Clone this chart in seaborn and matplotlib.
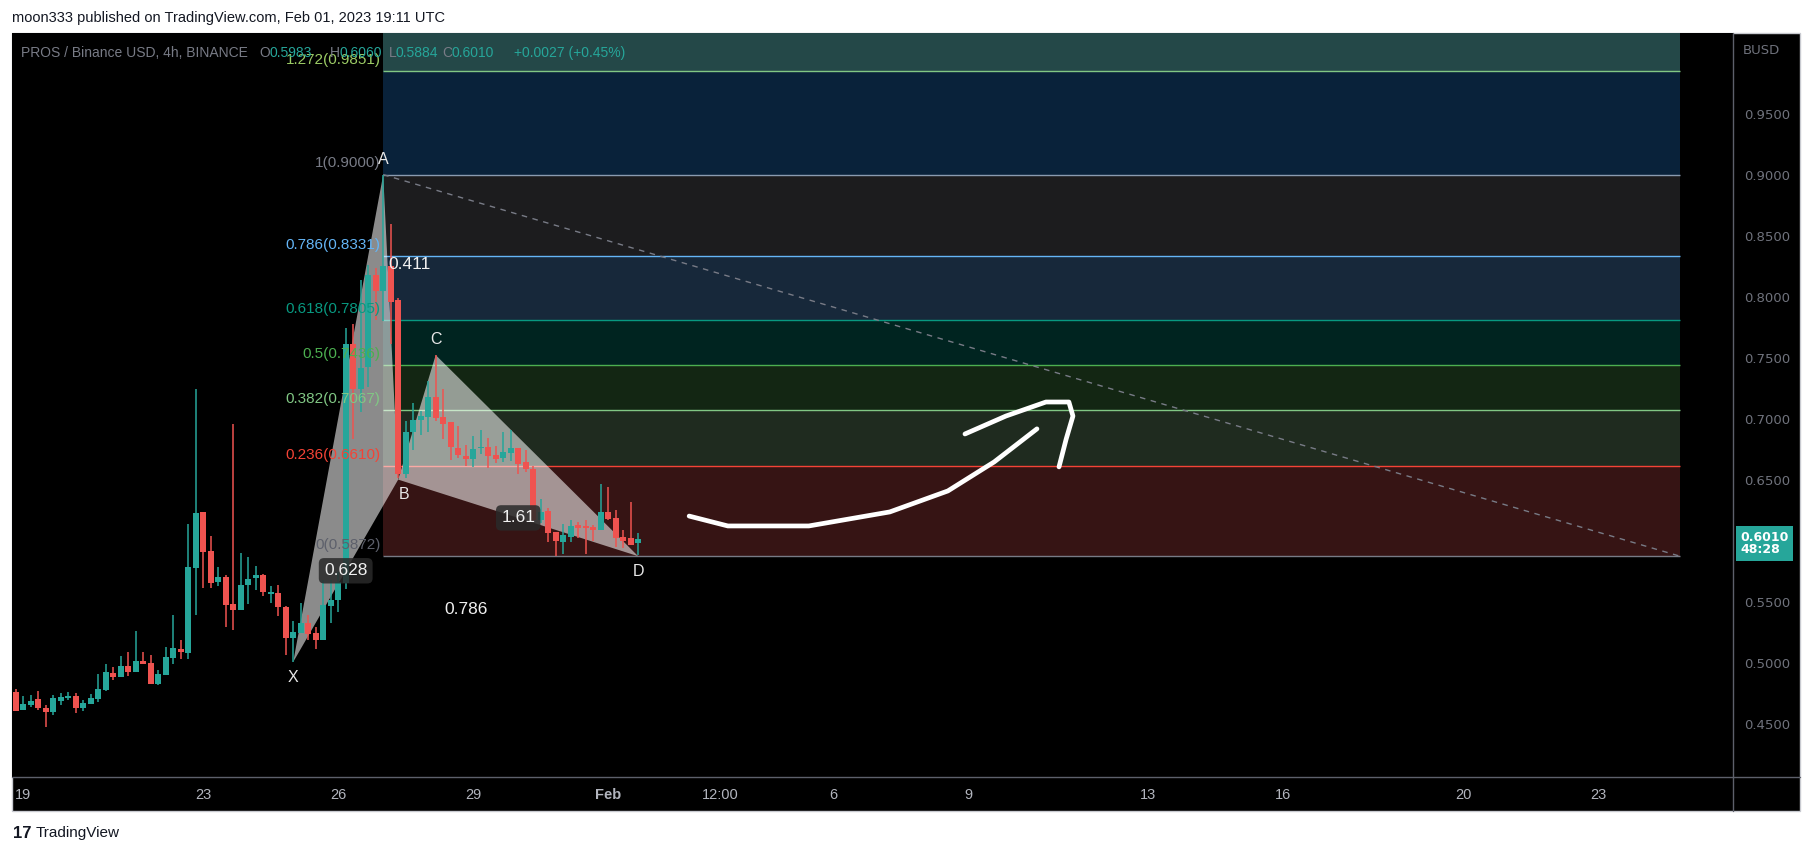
import numpy as np
import seaborn as sns
import matplotlib.pyplot as plt
import pandas as pd
from matplotlib.patches import Rectangle, Polygon

# ---- data ----
# 4h candles, first one Jan 18 20:00, x in days from Jan 19 00:00
opens = [0.4759, 0.4614, 0.4655, 0.4702, 0.4628, 0.4598, 0.4685, 0.4713, 0.4726, 0.4631,
         0.4663, 0.4702, 0.4778, 0.4915, 0.4885, 0.4972, 0.4923, 0.5013, 0.4997, 0.4825,
         0.4898, 0.5040, 0.5114, 0.5081, 0.5778, 0.6234, 0.5915, 0.5661, 0.5702, 0.5480,
         0.5431, 0.5636, 0.5693, 0.5718, 0.5565, 0.5571, 0.5456, 0.5202, 0.5243, 0.5325,
         0.5243, 0.5185, 0.5464, 0.5513, 0.5655, 0.7609, 0.7243, 0.7420, 0.8177, 0.8043,
         0.8251, 0.7969, 0.6543, 0.6888, 0.6989, 0.7013, 0.7177, 0.7013, 0.6972, 0.6762,
         0.6696, 0.6672, 0.6762, 0.6770, 0.6704, 0.6680, 0.6715, 0.6762, 0.6644, 0.6590,
         0.6172, 0.6243, 0.6073, 0.5989, 0.6032, 0.6125, 0.6120, 0.6114, 0.6090, 0.6234,
         0.6188, 0.6029, 0.6021, 0.5983]
highs = [0.4784, 0.4726, 0.4734, 0.4767, 0.4653, 0.4732, 0.4751, 0.4759, 0.4751, 0.4693,
         0.4743, 0.4907, 0.4989, 0.4964, 0.5054, 0.5087, 0.5259, 0.5087, 0.5062, 0.4940,
         0.5128, 0.5390, 0.5185, 0.6136, 0.7243, 0.6234, 0.6038, 0.5784, 0.5718, 0.6956,
         0.5898, 0.5866, 0.5792, 0.5726, 0.5628, 0.5636, 0.5464, 0.5341, 0.5489, 0.5390,
         0.5292, 0.5677, 0.5677, 0.5743, 0.7740, 0.7773, 0.8136, 0.8259, 0.8232, 0.9000,
         0.8595, 0.7986, 0.6978, 0.7128, 0.7062, 0.7308, 0.7521, 0.7243, 0.6972, 0.6939,
         0.6786, 0.6857, 0.6909, 0.6844, 0.6778, 0.6893, 0.6909, 0.6762, 0.6743, 0.6614,
         0.6341, 0.6270, 0.6073, 0.6136, 0.6169, 0.6152, 0.6169, 0.6128, 0.6464, 0.6439,
         0.6251, 0.6087, 0.6316, 0.6060]
lows = [0.4606, 0.4614, 0.4639, 0.4611, 0.4475, 0.4573, 0.4655, 0.4693, 0.4590, 0.4606,
        0.4663, 0.4680, 0.4770, 0.4860, 0.4885, 0.4893, 0.4923, 0.4989, 0.4825, 0.4816,
        0.4898, 0.4986, 0.5027, 0.5027, 0.5390, 0.5612, 0.5612, 0.5628, 0.5292, 0.5267,
        0.5431, 0.5480, 0.5595, 0.5546, 0.5489, 0.5382, 0.5062, 0.5005, 0.5243, 0.5185,
        0.5112, 0.5185, 0.5325, 0.5415, 0.5601, 0.6833, 0.7051, 0.7256, 0.7808, 0.7800,
        0.7609, 0.6510, 0.6510, 0.6745, 0.6868, 0.6893, 0.6983, 0.6833, 0.6661, 0.6680,
        0.6614, 0.6606, 0.6713, 0.6598, 0.6639, 0.6647, 0.6655, 0.6549, 0.6565, 0.6155,
        0.6144, 0.5989, 0.5876, 0.5893, 0.5991, 0.6019, 0.5893, 0.5999, 0.6090, 0.6169,
        0.5948, 0.5943, 0.5964, 0.5884]
closes = [0.4606, 0.4661, 0.4685, 0.4631, 0.4595, 0.4710, 0.4718, 0.4726, 0.4631, 0.4669,
          0.4710, 0.4784, 0.4923, 0.4882, 0.4972, 0.4923, 0.5013, 0.4989, 0.4825, 0.4907,
          0.5046, 0.5122, 0.5090, 0.5784, 0.6226, 0.5907, 0.5652, 0.5702, 0.5472, 0.5431,
          0.5636, 0.5685, 0.5718, 0.5579, 0.5579, 0.5456, 0.5202, 0.5251, 0.5325, 0.5234,
          0.5185, 0.5472, 0.5513, 0.5661, 0.7609, 0.7243, 0.7412, 0.8177, 0.8043, 0.8251,
          0.7953, 0.6543, 0.6888, 0.6989, 0.7021, 0.7177, 0.7005, 0.6956, 0.6770, 0.6704,
          0.6672, 0.6751, 0.6770, 0.6696, 0.6672, 0.6726, 0.6762, 0.6631, 0.6590, 0.6172,
          0.6234, 0.6065, 0.5999, 0.6046, 0.6120, 0.6106, 0.6106, 0.6090, 0.6234, 0.6177,
          0.6021, 0.5999, 0.5964, 0.6010]

# fib retracement
fib_levels = [0, 0.236, 0.382, 0.5, 0.618, 0.786, 1, 1.272]
fib_prices = [0.5872, 0.6610, 0.7067, 0.7436, 0.7805, 0.8331, 0.9000, 0.9851]
fib_top = 1.0933  # 1.618 level, off the top
fib_start, fib_end = 8.0, 36.82

# XABCD pattern
pat_names = ['X', 'A', 'B', 'C', 'D']
pat_x = [6.0, 8.0, 8.333, 9.167, 13.667]
pat_y = [0.5005, 0.9000, 0.6500, 0.7521, 0.5872]
ratio_labels = ['0.628', '0.411', '1.61', '0.786']

# freehand arrow
arrow_x = [14.80, 15.66, 17.46, 19.26, 20.55, 21.58, 22.53]
arrow_y = [0.6201, 0.6120, 0.6120, 0.6235, 0.6407, 0.6645, 0.6916]
head_x = [20.93, 21.84, 22.73, 23.24, 23.33, 23.18, 23.02]
head_y = [0.6874, 0.7021, 0.7136, 0.7136, 0.7021, 0.6833, 0.6604]

time_ticks = [0, 4, 7, 10, 13, 15.5, 18, 21, 25, 28, 32, 35]
time_labels = ['19', '23', '26', '29', 'Feb', '12:00', '6', '9', '13', '16', '20', '23']
price_ticks = [0.45, 0.50, 0.55, 0.65, 0.70, 0.75, 0.80, 0.85, 0.90, 0.95]

# ---- style ----
sns.set_theme(style='dark')
plt.rcParams['font.family'] = ['Liberation Sans', 'DejaVu Sans']

W, H = 1813, 856
UP, DOWN = '#26a69a', '#ef5350'
band_cols = ['#361414', '#1f2b1f', '#132613', '#002420', '#17283a', '#1c1c1e', '#09223a', '#244848']
line_cols = ['#787b86', '#f44336', '#81c784', '#4caf50', '#089981', '#64b5f6', '#8a9bb0', '#81c784']
lab_cols = ['#5d606b', '#f44336', '#81c784', '#4caf50', '#089981', '#64b5f6', '#787b86', '#9ccc65']

fig = plt.figure(figsize=(W / 100, H / 100), dpi=100, facecolor='white')
fig.add_artist(Rectangle((12 / W, 1 - 811 / H), (1800 - 12) / W, (811 - 33) / H,
                         transform=fig.transFigure, facecolor='black',
                         edgecolor='#c8cad0', lw=1, zorder=0))

ax = fig.add_axes([12 / W, 1 - 777 / H, (1733 - 12) / W, (777 - 33) / H])
ax.set_facecolor('black')
ax.set_xlim(-0.25, 38.0)
ax.set_ylim(0.4062, 1.0161)
for s in ax.spines.values():
    s.set_visible(False)
ax.grid(False)

# fib bands + lines
bounds = fib_prices + [fib_top]
for i in range(len(fib_prices)):
    ax.fill_between([fib_start, fib_end], bounds[i], bounds[i + 1],
                    color=band_cols[i], lw=0, zorder=1)
    ax.hlines(fib_prices[i], fib_start, fib_end, color=line_cols[i], lw=1, zorder=2)
    ax.annotate('%g(%.4f)' % (fib_levels[i], fib_prices[i]), (fib_start, fib_prices[i]),
                xytext=(-2, 3), textcoords='offset points', ha='right', va='bottom',
                color=lab_cols[i], fontsize=11, zorder=6)

trend = pd.DataFrame({'x': [fib_start, fib_end], 'y': [fib_prices[-2], fib_prices[0]]})
sns.lineplot(data=trend, x='x', y='y', ax=ax, color='#787b86', lw=1,
             linestyle=(0, (4, 4)), zorder=3)

# pattern triangles
ax.add_patch(Polygon(list(zip(pat_x[:3], pat_y[:3])), closed=True,
                     facecolor='#ffffff', alpha=0.55, lw=0, zorder=3))
ax.add_patch(Polygon(list(zip(pat_x[2:], pat_y[2:])), closed=True,
                     facecolor='#ffffff', alpha=0.55, lw=0, zorder=3))

# candles
n = len(opens)
xs = -1 / 6 + np.arange(n) / 6
o, h, l, c = map(np.array, (opens, highs, lows, closes))
cols = np.where(c >= o, UP, DOWN)
ax.vlines(xs, l, h, colors=cols, lw=1.1, zorder=4)
body = np.maximum(np.abs(c - o), 0.0008)
ax.bar(xs, body, bottom=np.minimum(o, c), width=0.135, color=cols, lw=0, zorder=5)

# pattern point labels
offs = [(0, -11), (0, 11), (4, -11), (0, 11), (0, -11)]
for name, px, py, (dx, dy) in zip(pat_names, pat_x, pat_y, offs):
    ax.annotate(name, (px, py), xytext=(dx, dy), textcoords='offset points',
                ha='center', va='center', color='#e8e8e8', fontsize=11.5, zorder=7)

# ratio labels on mid points of XB, AC, BD, XD
pairs = [(0, 2), (1, 3), (2, 4), (0, 4)]
boxes = [True, False, True, False]
for (a, b), txt, bx in zip(pairs, ratio_labels, boxes):
    mx, my = (pat_x[a] + pat_x[b]) / 2, (pat_y[a] + pat_y[b]) / 2
    kw = dict(boxstyle='round,pad=0.3', fc='#2a2a2a', ec='none', alpha=0.85) if bx else None
    ax.text(mx, my, txt, ha='center', va='center', color='#f0f0f0', fontsize=12.5,
            bbox=kw, zorder=7)

# freehand arrow
arr = pd.DataFrame({'x': arrow_x, 'y': arrow_y})
head = pd.DataFrame({'x': head_x, 'y': head_y})
sns.lineplot(data=arr, x='x', y='y', ax=ax, sort=False, estimator=None, color='white',
             lw=3.4, solid_capstyle='round', solid_joinstyle='round', zorder=8)
sns.lineplot(data=head, x='x', y='y', ax=ax, sort=False, estimator=None, color='white',
             lw=3.4, solid_capstyle='round', solid_joinstyle='round', zorder=8)

# axes ticks
ax.set_xlabel('')
ax.set_ylabel('')
ax.set_xticks(time_ticks)
ax.set_xticklabels(time_labels)
for t in ax.get_xticklabels():
    if t.get_text() == 'Feb':
        t.set_fontweight('bold')
ax.yaxis.tick_right()
ax.set_yticks(price_ticks)
ax.set_yticklabels(['%.4f' % p for p in price_ticks])
ax.tick_params(axis='x', length=0, pad=8, labelsize=10.5, labelcolor='#b2b5be')
ax.tick_params(axis='y', length=0, pad=8, labelsize=9.5, labelcolor='#6f727c')
for t in ax.get_yticklabels():
    t.set_family(['DejaVu Sans'])

# last price tag
ax.annotate('0.6010\n48:28', (1.0, closes[-1]), xycoords=('axes fraction', 'data'),
            xytext=(5, -3), textcoords='offset points', ha='left', va='center',
            color='white', fontsize=9, fontweight='bold', family=['DejaVu Sans'],
            linespacing=0.95,
            bbox=dict(boxstyle='square,pad=0.35', fc=UP, ec='none'), zorder=9,
            annotation_clip=False)

# frame lines
fig.add_artist(plt.Line2D([1733 / W, 1733 / W], [1 - 811 / H, 1 - 33 / H],
                          transform=fig.transFigure, color='#5d606b', lw=1))
fig.add_artist(plt.Line2D([12 / W, 1800 / W], [1 - 777 / H, 1 - 777 / H],
                          transform=fig.transFigure, color='#5d606b', lw=1))

# header texts
fig.text(12 / W, 1 - 18 / H, 'moon333 published on TradingView.com, Feb 01, 2023 19:11 UTC',
         ha='left', va='center', color='#131722', fontsize=10.5)
fig.text(1761 / W, 1 - 50 / H, 'BUSD', ha='center', va='center', color='#6f727c',
         fontsize=9.5, family=['DejaVu Sans'])
hdr = [(21, 'PROS / Binance USD, 4h, BINANCE', '#787b86'), (259, 'O', '#787b86'),
       (270, '0.5983', UP), (330, 'H', '#787b86'), (340, '0.6060', UP),
       (389, 'L', '#787b86'), (396, '0.5884', UP), (442, 'C', '#787b86'),
       (452, '0.6010', UP), (514, '+0.0027 (+0.45%)', UP)]
for hx, txt, col in hdr:
    fig.text(hx / W, 1 - 53 / H, txt, ha='left', va='center', color=col, fontsize=10)

# footer logo
fig.text(13 / W, 1 - 833 / H, '17', ha='left', va='center', color='#131722',
         fontsize=12, fontweight='bold')
fig.text(36 / W, 1 - 833 / H, 'TradingView', ha='left', va='center', color='#131722',
         fontsize=11)

fig.savefig('out.png', dpi=100, facecolor='white')
